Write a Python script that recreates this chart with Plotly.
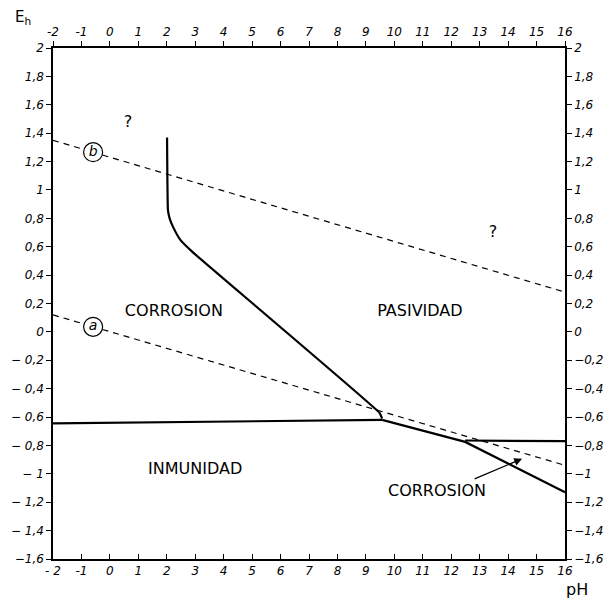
import plotly.graph_objects as go

# ---- data ----
ph_ticks = list(range(-2, 17))
ph_ticktext_top = [str(v) for v in ph_ticks]
ph_ticktext_bottom = ["- 2", "-1"] + [str(v) for v in range(0, 17)]
eh_ticks = [2, 1.8, 1.6, 1.4, 1.2, 1, 0.8, 0.6, 0.4, 0.2, 0, -0.2, -0.4, -0.6, -0.8, -1, -1.2, -1.4, -1.6]
eh_ticktext_left = ["2", "1,8", "1,6", "1,4", "1,2", "1", "0,8", "0,6", "0,4", "0,2", "0",
                    "− 0,2", "− 0,4", "− 0,6", "− 0,8", "− 1", "− 1,2", "− 1,4", "−1,6"]
eh_ticktext_right = ["2", "1,8", "1,6", "1,4", "1,2", "1", "0,8", "0,6", "0,4", "0,2", "0",
                     "−0,2", "−0,4", "−0,6", "−0,8", "−1", "−1,2", "−1,4", "−1,6"]

# corrosion / passivity boundary (curve)
pass_ph = [2.01, 2.02, 2.04, 2.10, 2.22, 2.47, 2.92, 9.48, 9.57]
pass_eh = [1.37, 1.10, 0.86, 0.80, 0.74, 0.65, 0.56, -0.57, -0.61]
# immunity boundary (left horizontal)
imm_ph = [-2, 9.57]
imm_eh = [-0.645, -0.62]
# lower boundary
low_ph = [9.57, 12.49, 16]
low_eh = [-0.62, -0.775, -1.13]
# upper right horizontal boundary
hor_ph = [12.49, 16]
hor_eh = [-0.765, -0.77]

# water lines (dashed), split around circled labels
line_a_ph = [[-2, -0.92], [-0.26, 16]]
line_a_eh = [[0.12, 0.056], [0.017, -0.94]]
line_b_ph = [[-2, -0.92], [-0.26, 16]]
line_b_eh = [[1.35, 1.286], [1.246, 0.28]]
circle_ph = [-0.59, -0.59]
circle_eh = [0.036, 1.266]
circle_text = ["a", "b"]

question_ph = [0.64, 13.47]
question_eh = [1.47, 0.70]

region_text = ["CORROSION", "PASIVIDAD", "INMUNIDAD", "CORROSION"]
region_ph = [2.25, 10.9, 3.0, 11.5]
region_eh = [0.14, 0.14, -0.97, -1.13]

arrow_tail = (12.77, -1.04)
arrow_head = (14.49, -0.894)

fig = go.Figure()
solid = dict(color="black", width=2.2)
fig.add_trace(go.Scatter(x=pass_ph, y=pass_eh, mode="lines",
                         line=dict(color="black", width=2.2, shape="spline", smoothing=0.3)))
for xs, ys in [(imm_ph, imm_eh), (low_ph, low_eh), (hor_ph, hor_eh)]:
    fig.add_trace(go.Scatter(x=xs, y=ys, mode="lines", line=solid))
for xs_list, ys_list in [(line_a_ph, line_a_eh), (line_b_ph, line_b_eh)]:
    for xs, ys in zip(xs_list, ys_list):
        fig.add_trace(go.Scatter(x=xs, y=ys, mode="lines",
                                 line=dict(color="black", width=1.2, dash="6px,5px")))
fig.add_trace(go.Scatter(x=circle_ph, y=circle_eh, mode="markers+text", text=circle_text,
                         textposition="middle center",
                         textfont=dict(family="DejaVu Sans", size=14, color="black", style="italic"),
                         marker=dict(symbol="circle-open", size=19, color="black", line=dict(width=1.2))))
fig.add_trace(go.Scatter(x=question_ph, y=question_eh, mode="text", text=["?", "?"],
                         textfont=dict(family="DejaVu Sans", size=16, color="black")))
fig.add_trace(go.Scatter(x=region_ph, y=region_eh, mode="text", text=region_text,
                         textfont=dict(family="DejaVu Sans", size=16, color="black")))
# invisible trace on secondary axes
fig.add_trace(go.Scatter(x=[-2, 16], y=[-1.6, 2], xaxis="x2", yaxis="y2", mode="markers",
                         marker=dict(opacity=0), hoverinfo="skip"))

fig.add_annotation(x=arrow_head[0], y=arrow_head[1], ax=arrow_tail[0], ay=arrow_tail[1],
                   xref="x", yref="y", axref="x", ayref="y", text="", showarrow=True,
                   arrowhead=2, arrowsize=1.2, arrowwidth=1.3, arrowcolor="black")
fig.add_annotation(x=0, y=1, xref="paper", yref="paper", xanchor="right", yanchor="bottom",
                   xshift=-20, yshift=19, text="E<sub>h</sub>", showarrow=False,
                   font=dict(family="DejaVu Sans", size=15, color="black"))
fig.add_annotation(x=1, y=0, xref="paper", yref="paper", xanchor="center", yanchor="middle",
                   xshift=12, yshift=-30, text="pH", showarrow=False,
                   font=dict(family="DejaVu Sans", size=16, color="black"))

tickfont = dict(family="DejaVu Sans", size=12, color="black", style="italic")
axis_common = dict(showgrid=False, zeroline=False, showline=True, linecolor="black", linewidth=1.5,
                   ticklen=5, tickcolor="black", tickwidth=1.2, tickfont=tickfont,
                   fixedrange=True, automargin=False)
fig.update_layout(
    width=606, height=592,
    margin=dict(l=45, r=49, t=40, b=41),
    paper_bgcolor="white", plot_bgcolor="white",
    showlegend=False,
    xaxis=dict(range=[-2, 16], tickvals=ph_ticks, ticktext=ph_ticktext_bottom, side="bottom",
               ticks="inside", **axis_common),
    xaxis2=dict(range=[-2, 16], tickvals=ph_ticks, ticktext=ph_ticktext_top, side="top",
                overlaying="x", ticks="outside", **axis_common),
    yaxis=dict(range=[-1.6, 2], tickvals=eh_ticks, ticktext=eh_ticktext_left, side="left",
               ticks="outside", **axis_common),
    yaxis2=dict(range=[-1.6, 2], tickvals=eh_ticks, ticktext=eh_ticktext_right, side="right",
                overlaying="y", ticks="outside", **axis_common),
)
fig.write_html("out.html")
